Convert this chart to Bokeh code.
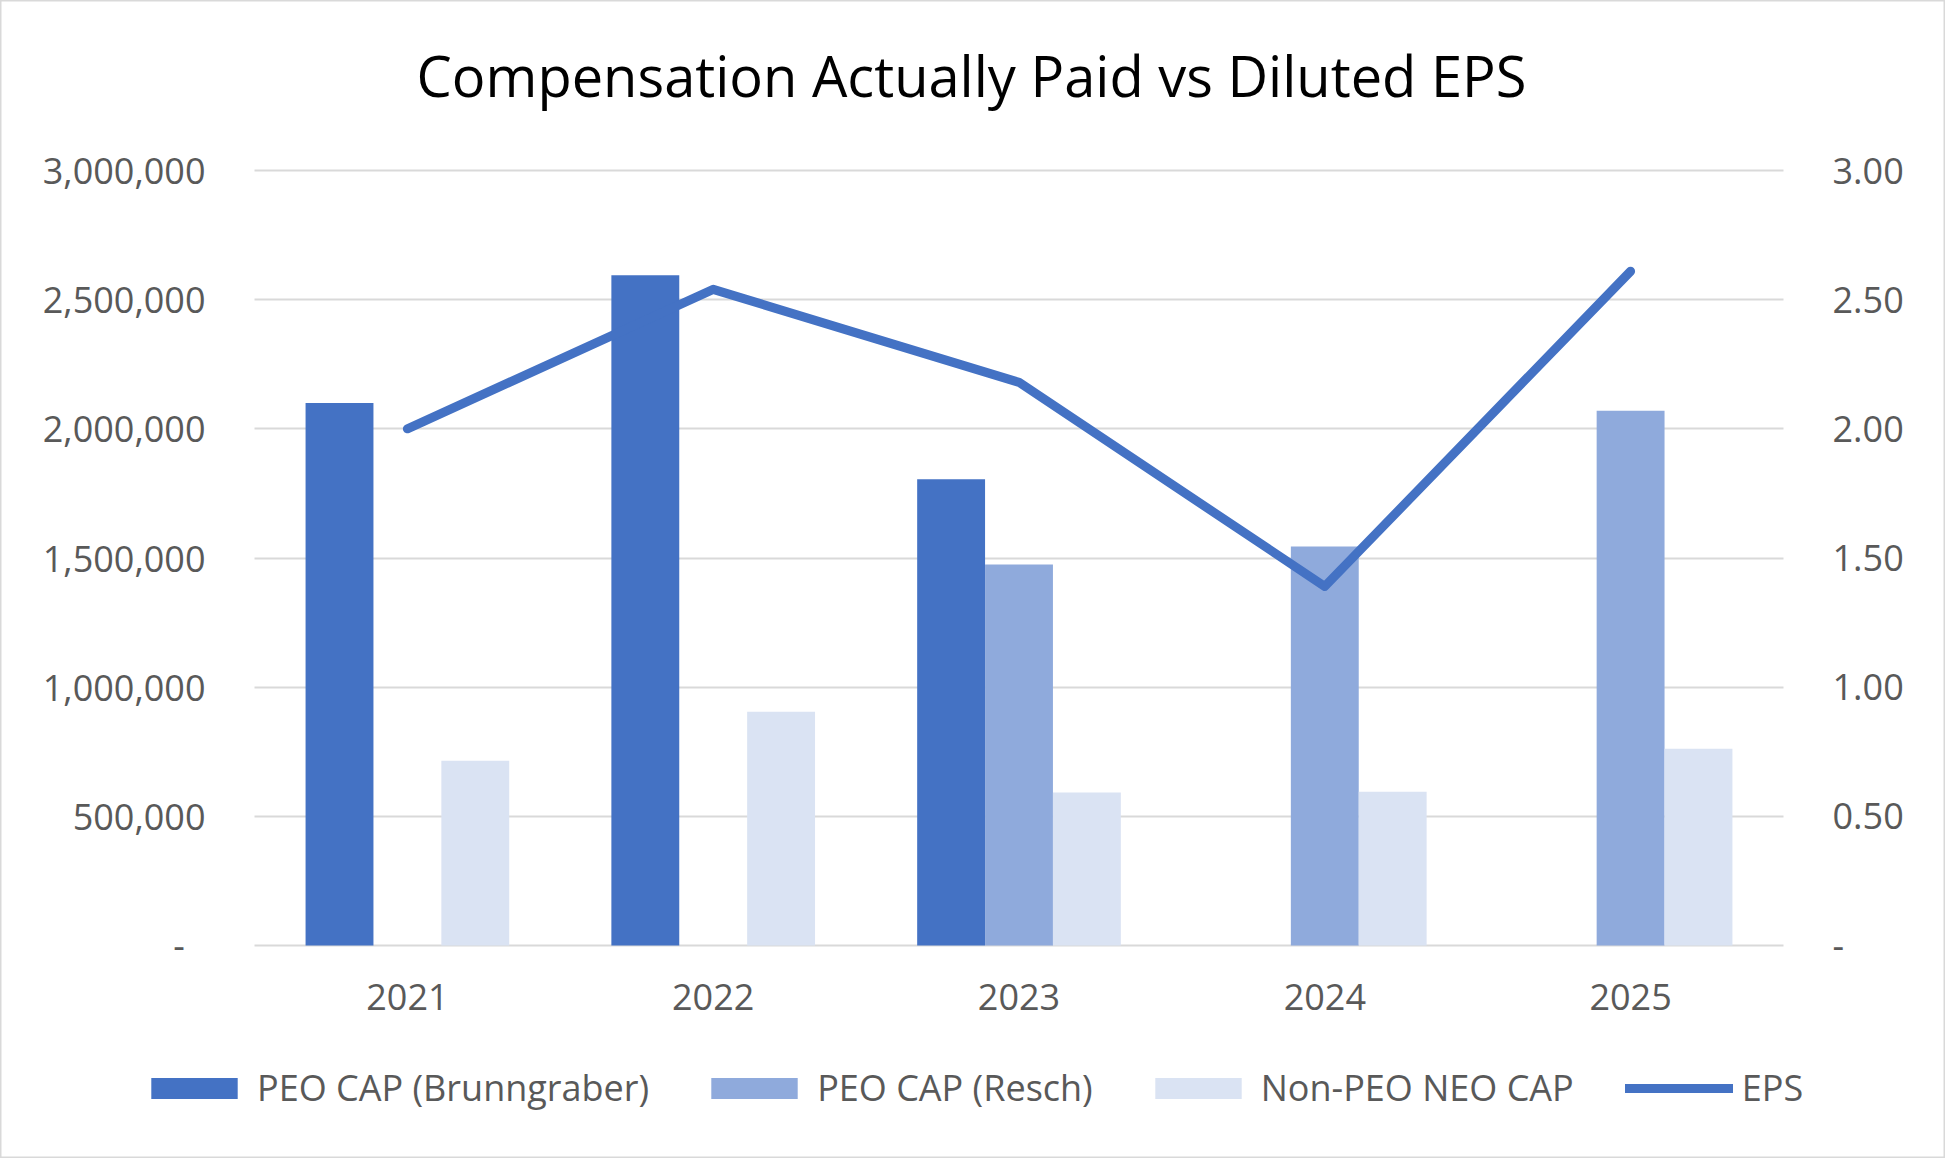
from bokeh.plotting import figure
from bokeh.models import (Range1d, LinearAxis, Legend, LegendItem, Label,
                          CustomJSTickFormatter, FixedTicker, ColumnDataSource)
from bokeh.transform import dodge
from bokeh.embed import file_html
from bokeh.resources import INLINE

nan = float("nan")
years = ["2021", "2022", "2023", "2024", "2025"]
peo_cap_brunngraber = [2100000, 2595000, 1805000, nan, nan]
peo_cap_resch = [nan, nan, 1475000, 1545000, 2070000]
non_peo_neo_cap = [715000, 905000, 592000, 595000, 762000]
eps = [2.00, 2.54, 2.18, 1.39, 2.61]
left_ticks = [0, 500000, 1000000, 1500000, 2000000, 2500000, 3000000]
right_ticks = [0, 0.5, 1.0, 1.5, 2.0, 2.5, 3.0]
series_names = ["PEO CAP (Brunngraber)", "PEO CAP (Resch)", "Non-PEO NEO CAP", "EPS"]
title_text = "Compensation Actually Paid vs Diluted EPS"

pos = list(range(len(years)))
src = ColumnDataSource(dict(x=pos, brunn=peo_cap_brunngraber, resch=peo_cap_resch,
                            nonpeo=non_peo_neo_cap, eps=eps))

FONT = "Open Sans"
GRAY = "#595959"
GRID = "#D9D9D9"
C1, C2, C3 = "#4472C4", "#8FAADC", "#DAE3F3"

# canvas / plot-area geometry (pixels)
CW, CH = 1945, 1158
PL, PR, PT, PB = 254, 1783, 170, 945  # plot area edges

n = len(years)
xu = (PR - PL) / n                      # px per category
x0 = -0.5 - PL / xu
x1 = n - 0.5 + (CW - PR) / xu
ymax_l = left_ticks[-1]
yu_l = (PB - PT) / ymax_l
ymax_r = right_ticks[-1]
yu_r = (PB - PT) / ymax_r

p = figure(width=CW, height=CH, title=None,
           x_range=Range1d(x0, x1),
           y_range=Range1d(-(CH - PB) / yu_l, ymax_l + PT / yu_l),
           output_backend="svg", toolbar_location=None,
           min_border=0, min_border_left=0, min_border_right=0,
           min_border_top=0, min_border_bottom=0)
p.extra_y_ranges = {"eps": Range1d(-(CH - PB) / yu_r, ymax_r + PT / yu_r)}
p.outline_line_color = GRID
p.outline_line_width = 2
p.background_fill_color = "white"
p.border_fill_color = "white"
p.xgrid.visible = False
p.ygrid.visible = False

W = 0.222
r1 = p.vbar(x=dodge("x", -W), top="brunn", width=W, source=src,
            fill_color=C1, line_color=None)
r2 = p.vbar(x=dodge("x", 0), top="resch", width=W, source=src,
            fill_color=C2, line_color=None)
r3 = p.vbar(x=dodge("x", W), top="nonpeo", width=W, source=src,
            fill_color=C3, line_color=None)
r4 = p.line(x="x", y="eps", source=src, y_range_name="eps", line_width=9,
            line_color=C1, line_cap="round", line_join="round")

# left axis: its ticks, drawn inward across the plot area, are the gridlines
la = p.yaxis[0]
la.fixed_location = -0.5
la.level = "underlay"
la.ticker = FixedTicker(ticks=left_ticks)
la.formatter = CustomJSTickFormatter(code="""
if (tick == 0) { return '-\\u2007'; }
return Math.round(tick).toLocaleString('en-US');
""")
la.axis_line_color = None
la.major_tick_line_color = GRID
la.major_tick_line_width = 2
la.major_tick_in = PR - PL
la.major_tick_out = 0

ra = LinearAxis(y_range_name="eps", ticker=FixedTicker(ticks=right_ticks),
                fixed_location=n - 0.5,
                formatter=CustomJSTickFormatter(code="""
if (tick == 0) { return '-'; }
return tick.toFixed(2);
"""))
p.add_layout(ra, "right")
ra.axis_line_color = None
ra.major_tick_line_color = None
ra.major_tick_in = 0
ra.major_tick_out = 0

for ax in (la, ra):
    ax.minor_tick_line_color = None
    ax.minor_tick_out = 0
    ax.minor_tick_in = 0
    ax.major_label_text_font = FONT
    ax.major_label_text_font_size = "36px"
    ax.major_label_text_color = GRAY
    ax.major_label_standoff = 49

xa = p.xaxis[0]
xa.fixed_location = 0
xa.ticker = FixedTicker(ticks=pos)
xa.major_label_overrides = {i: y for i, y in zip(pos, years)}
xa.axis_line_color = None
xa.major_tick_line_color = None
xa.minor_tick_line_color = None
xa.major_tick_in = 0
xa.major_tick_out = 0
xa.minor_tick_out = 0
xa.major_label_text_font = FONT
xa.major_label_text_font_size = "36px"
xa.major_label_text_color = GRAY
xa.major_label_standoff = 38

# title
title = Label(x=971, y=CH - 74, x_units="screen", y_units="screen", text=title_text,
              text_align="center", text_baseline="alphabetic",
              text_font=FONT, text_font_size="56px", text_color="#000000")
p.add_layout(title)

legend = Legend(items=[LegendItem(label=nm, renderers=[r]) for nm, r in
                       zip(series_names, [r1, r2, r3, r4])],
                orientation="horizontal", location=(140, 46),
                glyph_width=108, glyph_height=26, label_standoff=9, spacing=51,
                padding=0, margin=0, border_line_color=None, background_fill_alpha=0,
                label_text_font=FONT, label_text_font_size="36px", label_text_color=GRAY)
p.add_layout(legend, "center")

open("out.html", "w").write(file_html(p, INLINE))
